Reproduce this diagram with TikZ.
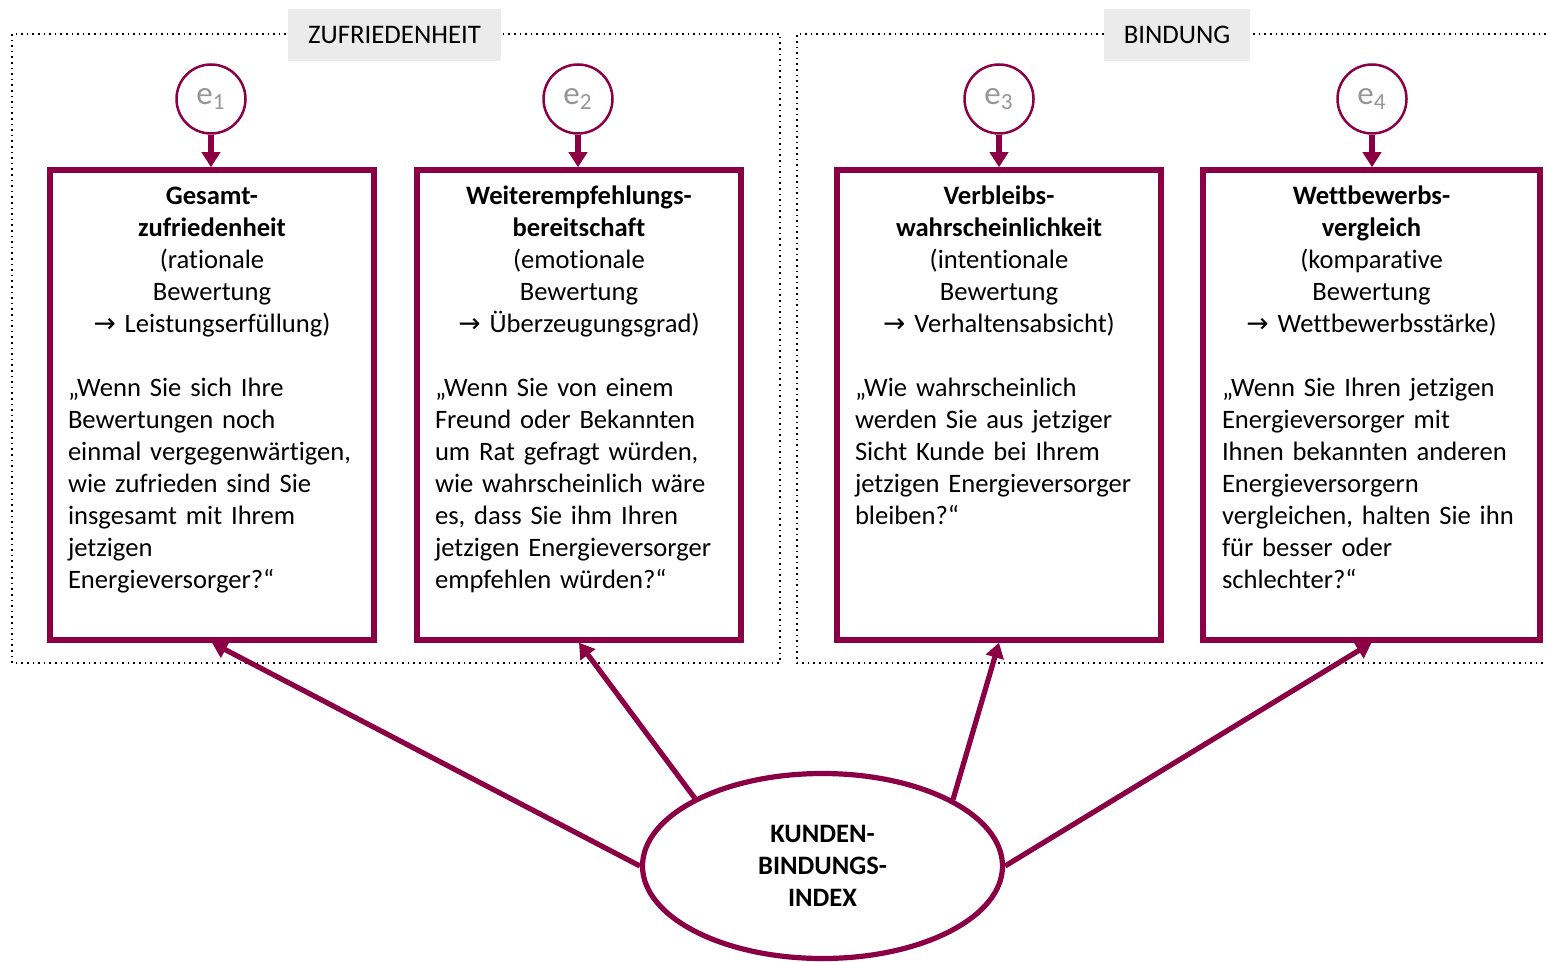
\documentclass[tikz,border=0pt]{standalone}
\usepackage{fontspec}
\setmainfont{Carlito}[Ligatures=NoCommon]
\newfontfamily\pfeilfont{DejaVu Sans}
\usetikzlibrary{arrows.meta,shapes.geometric,positioning}
\definecolor{bordeaux}{RGB}{139,0,69}
\definecolor{kopfgrau}{RGB}{235,235,235}
\definecolor{fehlergrau}{RGB}{150,150,150}

\begin{document}
\begin{tikzpicture}[x=0.5pt, y=-0.5pt, >={Triangle[width=9pt,length=7.5pt]},
    rahmen/.style={dotted, line width=0.8pt},
    kopf/.style={fill=kopfgrau, minimum height=26pt, inner sep=0pt, font=\fontsize{13.4}{15}\selectfont},
    fehler/.style={circle, draw=bordeaux, line width=1.25pt, minimum size=34.5pt, inner sep=0pt, text=fehlergrau, font=\fontsize{16.5}{18}\selectfont},
    kasten/.style={draw=bordeaux, line width=2.75pt, minimum width=#1, minimum height=235pt, inner sep=0pt},
    inhalt/.style={anchor=north, yshift=-7pt, text width=#1, inner sep=0pt, font=\fontsize{13.3}{16}\selectfont},
    pfeil/.style={->, draw=bordeaux, line width=2.6pt},
    kbistil/.style={ellipse, draw=bordeaux, line width=2.6pt, fill=white, minimum width=180pt, minimum height=92.5pt, inner sep=0pt, align=center, font=\bfseries\fontsize{13.3}{16}\selectfont}]
    \useasboundingbox (0,0) rectangle (1546,962);
    % gestrichelte Bereiche
    \draw[rahmen] (12,34) rectangle (780,663);
    \draw[rahmen] (1546,34) -- (797,34) -- (797,663) -- (1546,663);
    \node[kopf, minimum width=106.5pt] (zuf) at (394.5,35) {ZUFRIEDENHEIT};
    \node[kopf, minimum width=73pt] (bin) at (1177,35) {BINDUNG};
    % Indikatoren
    \node[kasten=162pt] (b1) at (212,405) {};
    \node[kasten=162pt] (b2) at (579,405) {};
    \node[kasten=162pt] (b3) at (999,405) {};
    \node[kasten=168.5pt] (b4) at (1371.5,405) {};
    \node[inhalt=144pt] (t1) at (b1.north) {{\centering\strut\textbf{Gesamt-}\\\textbf{zufriedenheit}\\(rationale\\Bewertung\\{\pfeilfont →} Leistungserfüllung)\par}
        \vspace{16pt}\raggedright „Wenn Sie sich Ihre\\Bewertungen noch\\einmal vergegenwärtigen,\\wie zufrieden sind Sie\\insgesamt mit Ihrem\\jetzigen\\Energieversorger?“};
    \node[inhalt=144pt] (t2) at (b2.north) {{\centering\strut\textbf{Weiterempfehlungs-}\\\textbf{bereitschaft}\\(emotionale\\Bewertung\\{\pfeilfont →} Überzeugungsgrad)\par}
        \vspace{16pt}\raggedright „Wenn Sie von einem\\Freund oder Bekannten\\um Rat gefragt würden,\\wie wahrscheinlich wäre\\es, dass Sie ihm Ihren\\jetzigen Energieversorger\\empfehlen würden?“};
    \node[inhalt=144pt] (t3) at (b3.north) {{\centering\strut\textbf{Verbleibs-}\\\textbf{wahrscheinlichkeit}\\(intentionale\\Bewertung\\{\pfeilfont →} Verhaltensabsicht)\par}
        \vspace{16pt}\raggedright „Wie wahrscheinlich\\werden Sie aus jetziger\\Sicht Kunde bei Ihrem\\jetzigen Energieversorger\\bleiben?“};
    \node[inhalt=149.5pt] (t4) at (b4.north) {{\centering\strut\textbf{Wettbewerbs-}\\\textbf{vergleich}\\(komparative\\Bewertung\\{\pfeilfont →} Wettbewerbsstärke)\par}
        \vspace{16pt}\raggedright „Wenn Sie Ihren jetzigen\\Energieversorger mit\\Ihnen bekannten anderen\\Energieversorgern\\vergleichen, halten Sie ihn\\für besser oder\\schlechter?“};
    % Messfehler
    \node[fehler] (e1) at (211,99) {e\textsubscript{1}};
    \node[fehler] (e2) at (578,99) {e\textsubscript{2}};
    \node[fehler] (e3) at (999,99) {e\textsubscript{3}};
    \node[fehler] (e4) at (1372,99) {e\textsubscript{4}};
    \draw[pfeil] (e1.south) -- (e1.south |- b1.north);
    \draw[pfeil] (e2.south) -- (e2.south |- b2.north);
    \draw[pfeil] (e3.south) -- (e3.south |- b3.north);
    \draw[pfeil] (e4.south) -- (e4.south |- b4.north);
    % Index
    \node[kbistil] (kbi) at (822.5,866) {KUNDEN-\\BINDUNGS-\\INDEX};
    \draw[pfeil] (kbi.west) -- (b1.south);
    \draw[pfeil] (kbi.152) -- (b2.south);
    \draw[pfeil] (kbi.27.5) -- (b3.south);
    \draw[pfeil] (kbi.east) -- (b4.south);
\end{tikzpicture}
\end{document}
